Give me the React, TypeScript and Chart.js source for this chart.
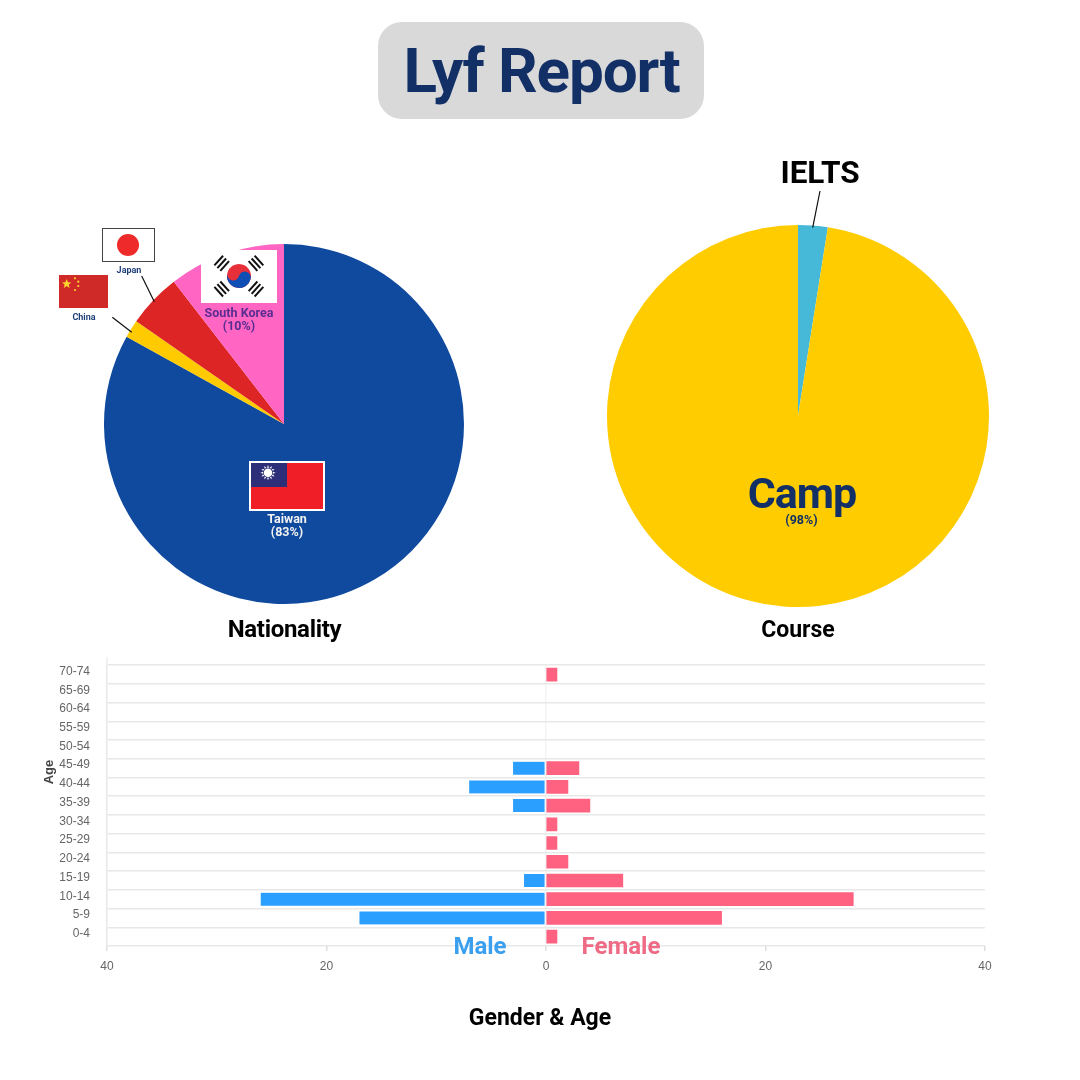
import React, { useEffect, useRef } from "react";
import { Chart, registerables } from "chart.js";

Chart.register(...registerables);

const nationalityLabels = ["Taiwan", "China", "Japan", "South Korea"];
const nationalityValues = [103, 2, 6, 13];
const nationalityColors = ["#0f4a9e", "#ffcb00", "#dd2525", "#ff66c4"];

const courseLabels = ["IELTS", "Camp"];
const courseValues = [2.5, 97.5];
const courseColors = ["#46b8d8", "#ffcc00"];

const ageLabels = ["70-74", "65-69", "60-64", "55-59", "50-54", "45-49", "40-44", "35-39", "30-34", "25-29", "20-24", "15-19", "10-14", "5-9", "0-4"];
const maleValues = [null, null, null, null, null, -3, -7, -3, null, null, null, -2, -26, -17, null];
const femaleValues = [1, null, null, null, null, 3, 2, 4, 1, 1, 2, 7, 28, 16, 1];

const ROBOTO = "Roboto, sans-serif";
const NAVY = "#122f66";

function Label(p: { x: number; y: number; size: number; color: string; text: string; rotate?: number; font?: string; spacing?: number }) {
  return (
    <div
      style={{
        position: "absolute",
        left: p.x,
        top: p.y,
        transform: `translate(-50%, -50%) rotate(${p.rotate || 0}deg)`,
        fontFamily: p.font || ROBOTO,
        fontWeight: 700,
        fontSize: p.size,
        letterSpacing: p.spacing || 0,
        lineHeight: 1,
        color: p.color,
        whiteSpace: "nowrap",
      }}
    >
      {p.text}
    </div>
  );
}

function Trigram(p: { x: number; y: number; angle: number }) {
  return (
    <g transform={`translate(${p.x} ${p.y}) rotate(${p.angle})`} fill="#111">
      <rect x={-6.5} y={-5} width={13} height={2} />
      <rect x={-6.5} y={-1} width={13} height={2} />
      <rect x={-6.5} y={3} width={13} height={2} />
    </g>
  );
}

function Flags() {
  const sunRays = [0, 30, 60, 90, 120, 150, 180, 210, 240, 270, 300, 330];
  return (
    <svg width={1080} height={1080} style={{ position: "absolute", left: 0, top: 0, pointerEvents: "none" }}>
      {/* leader lines */}
      <line x1={141.7} y1={276} x2={154.3} y2={301.7} stroke="#111" strokeWidth={1.2} />
      <line x1={112.3} y1={317.3} x2={131.7} y2={332.3} stroke="#111" strokeWidth={1.2} />
      <line x1={820} y1={191} x2={812.7} y2={227.7} stroke="#111" strokeWidth={1.2} />
      {/* Japan */}
      <rect x={102.5} y={228.5} width={52} height={33} fill="#fff" stroke="#444" strokeWidth={1} />
      <circle cx={128} cy={245} r={11} fill="#ee2a2a" />
      {/* China */}
      <rect x={59} y={275} width={49} height={33} fill="#cf2a27" />
      <polygon
        points="66.7,279 68,282.2 71.4,282.4 68.8,284.6 69.6,287.9 66.7,286.1 63.8,287.9 64.6,284.6 62,282.4 65.4,282.2"
        fill="#ffd62e"
      />
      <circle cx={75} cy={278.3} r={1.1} fill="#ffd62e" />
      <circle cx={78.3} cy={281.7} r={1.1} fill="#ffd62e" />
      <circle cx={78.3} cy={286} r={1.1} fill="#ffd62e" />
      <circle cx={75} cy={290} r={1.1} fill="#ffd62e" />
      {/* South Korea */}
      <rect x={201} y={250} width={76} height={53} fill="#fff" />
      <Trigram x={221.7} y={263.3} angle={-48} />
      <Trigram x={256} y={263.3} angle={48} />
      <Trigram x={221.7} y={289} angle={48} />
      <Trigram x={256} y={289} angle={-48} />
      <g transform="translate(239 276) rotate(15)">
        <circle r={12} fill="#e8303a" />
        <path d="M -12 0 A 12 12 0 0 0 12 0 A 6 6 0 0 0 0 0 A 6 6 0 0 1 -12 0 Z" fill="#0f4fb5" />
      </g>
      {/* Taiwan */}
      <rect x={250} y={462} width={74} height={48} fill="#f01f27" stroke="#fff" strokeWidth={2} />
      <rect x={251} y={463} width={36} height={24} fill="#2c2f78" />
      <g transform="translate(268 472.7)">
        {sunRays.map((a) => (
          <polygon key={a} points="-1,-5 1,-5 0,-7.6" fill="#fff" transform={`rotate(${a})`} />
        ))}
        <circle r={4.3} fill="#fff" />
      </g>
    </svg>
  );
}

export default function App() {
  const natRef = useRef<HTMLCanvasElement>(null);
  const courseRef = useRef<HTMLCanvasElement>(null);
  const barRef = useRef<HTMLCanvasElement>(null);

  useEffect(() => {
    document.body.style.margin = "0";
    const pieOptions: any = {
      responsive: false,
      animation: false,
      plugins: { legend: { display: false }, tooltip: { enabled: false } },
    };
    const nat = new Chart(natRef.current!, {
      type: "pie",
      data: {
        labels: nationalityLabels,
        datasets: [{ data: nationalityValues, backgroundColor: nationalityColors, borderWidth: 0 }],
      },
      options: pieOptions,
    });
    const course = new Chart(courseRef.current!, {
      type: "pie",
      data: {
        labels: courseLabels,
        datasets: [{ data: courseValues, backgroundColor: courseColors, borderWidth: 0 }],
      },
      options: pieOptions,
    });
    const axisStub: any = {
      id: "axisStub",
      afterDraw(c: any) {
        const { ctx, scales } = c;
        ctx.save();
        ctx.strokeStyle = "#ececec";
        ctx.lineWidth = 1.5;
        ctx.beginPath();
        ctx.moveTo(scales.x.left, scales.y.top);
        ctx.lineTo(scales.x.left, scales.y.top - 8);
        ctx.stroke();
        ctx.restore();
      },
    };
    const bar = new Chart(barRef.current!, {
      type: "bar",
      data: {
        labels: ageLabels,
        datasets: [
          {
            label: "Male",
            data: maleValues,
            backgroundColor: "#2a9fff",
            barThickness: 13,
            borderColor: "#ffffff",
            borderWidth: { right: 1, left: 0, top: 0, bottom: 0 },
            borderSkipped: false,
          },
          { label: "Female", data: femaleValues, backgroundColor: "#ff6280", barThickness: 13 },
        ],
      },
      plugins: [axisStub],
      options: {
        indexAxis: "y",
        responsive: false,
        animation: false,
        layout: { padding: { top: 6, right: 45, left: 0, bottom: 0 } },
        plugins: { legend: { display: false }, tooltip: { enabled: false } },
        scales: {
          x: {
            stacked: true,
            min: -40,
            max: 40,
            afterFit: (s: any) => {
              s.height = 34;
            },
            ticks: {
              stepSize: 20,
              color: "#666",
              padding: 8,
              maxRotation: 0,
              font: { family: "'Liberation Sans', Arial, sans-serif", size: 12 },
              callback: (v: any) => String(Math.abs(Number(v))),
            },
            border: { display: false },
            grid: {
              tickLength: 5,
              tickColor: "#dddddd",
              lineWidth: 1.5,
              color: (ctx: any) => (ctx.tick && ctx.tick.value === 0 ? "#f3f3f3" : "rgba(0,0,0,0)"),
            },
          },
          y: {
            stacked: true,
            afterFit: (s: any) => {
              s.width = 77;
            },
            ticks: {
              autoSkip: false,
              color: "#666",
              padding: 17,
              labelOffset: -3,
              font: { family: "'Liberation Sans', Arial, sans-serif", size: 12 },
            },
            border: { display: true, color: "#e8e8e8", width: 1.5 },
            grid: { color: "#e8e8e8", lineWidth: 1.5, tickLength: 0 },
          },
        },
      } as any,
    });
    return () => {
      nat.destroy();
      course.destroy();
      bar.destroy();
    };
  }, []);

  return (
    <div style={{ position: "absolute", left: 0, top: 0, width: 1080, height: 1080, background: "#fff", overflow: "hidden" }}>
      <div style={{ position: "absolute", left: 378, top: 22, width: 326, height: 97, borderRadius: 24, background: "#d9d9d9" }} />
      <Label x={541.5} y={71} size={62} color={NAVY} text="Lyf Report" spacing={-1.1} />

      <canvas ref={natRef} width={360} height={360} style={{ position: "absolute", left: 104, top: 244, width: 360, height: 360 }} />
      <canvas ref={courseRef} width={382} height={382} style={{ position: "absolute", left: 607, top: 225, width: 382, height: 382 }} />
      <canvas ref={barRef} width={1000} height={339} style={{ position: "absolute", left: 30, top: 641, width: 1000, height: 339 }} />

      <Flags />

      <Label x={129} y={270} size={9} color="#1f3f78" text="Japan" />
      <Label x={84} y={317} size={9} color="#1f3f78" text="China" />
      <Label x={239} y={313} size={12.5} color="#5a2d91" text="South Korea" />
      <Label x={239} y={326} size={12.5} color="#5a2d91" text="(10%)" />
      <Label x={287} y={519} size={12.5} color="#f2f2f2" text="Taiwan" />
      <Label x={287} y={532} size={12.5} color="#f2f2f2" text="(83%)" />
      <Label x={284.5} y={629} size={24} color="#000" text="Nationality" spacing={-0.3} />

      <Label x={820} y={172.5} size={31.5} color="#000" text="IELTS" />
      <Label x={802} y={493} size={43} color={NAVY} text="Camp" spacing={-1} />
      <Label x={801.5} y={520} size={12.5} color={NAVY} text="(98%)" />
      <Label x={798} y={629} size={23} color="#000" text="Course" />

      <Label x={47.5} y={772} size={13} color="#444" text="Age" rotate={-90} font="'Liberation Sans', Arial, sans-serif" />
      <Label x={480} y={946} size={24} color="#3a9fef" text="Male" />
      <Label x={621} y={946} size={24} color="#ee6a85" text="Female" />
      <Label x={540} y={1017} size={23} color="#000" text="Gender & Age" />
    </div>
  );
}
